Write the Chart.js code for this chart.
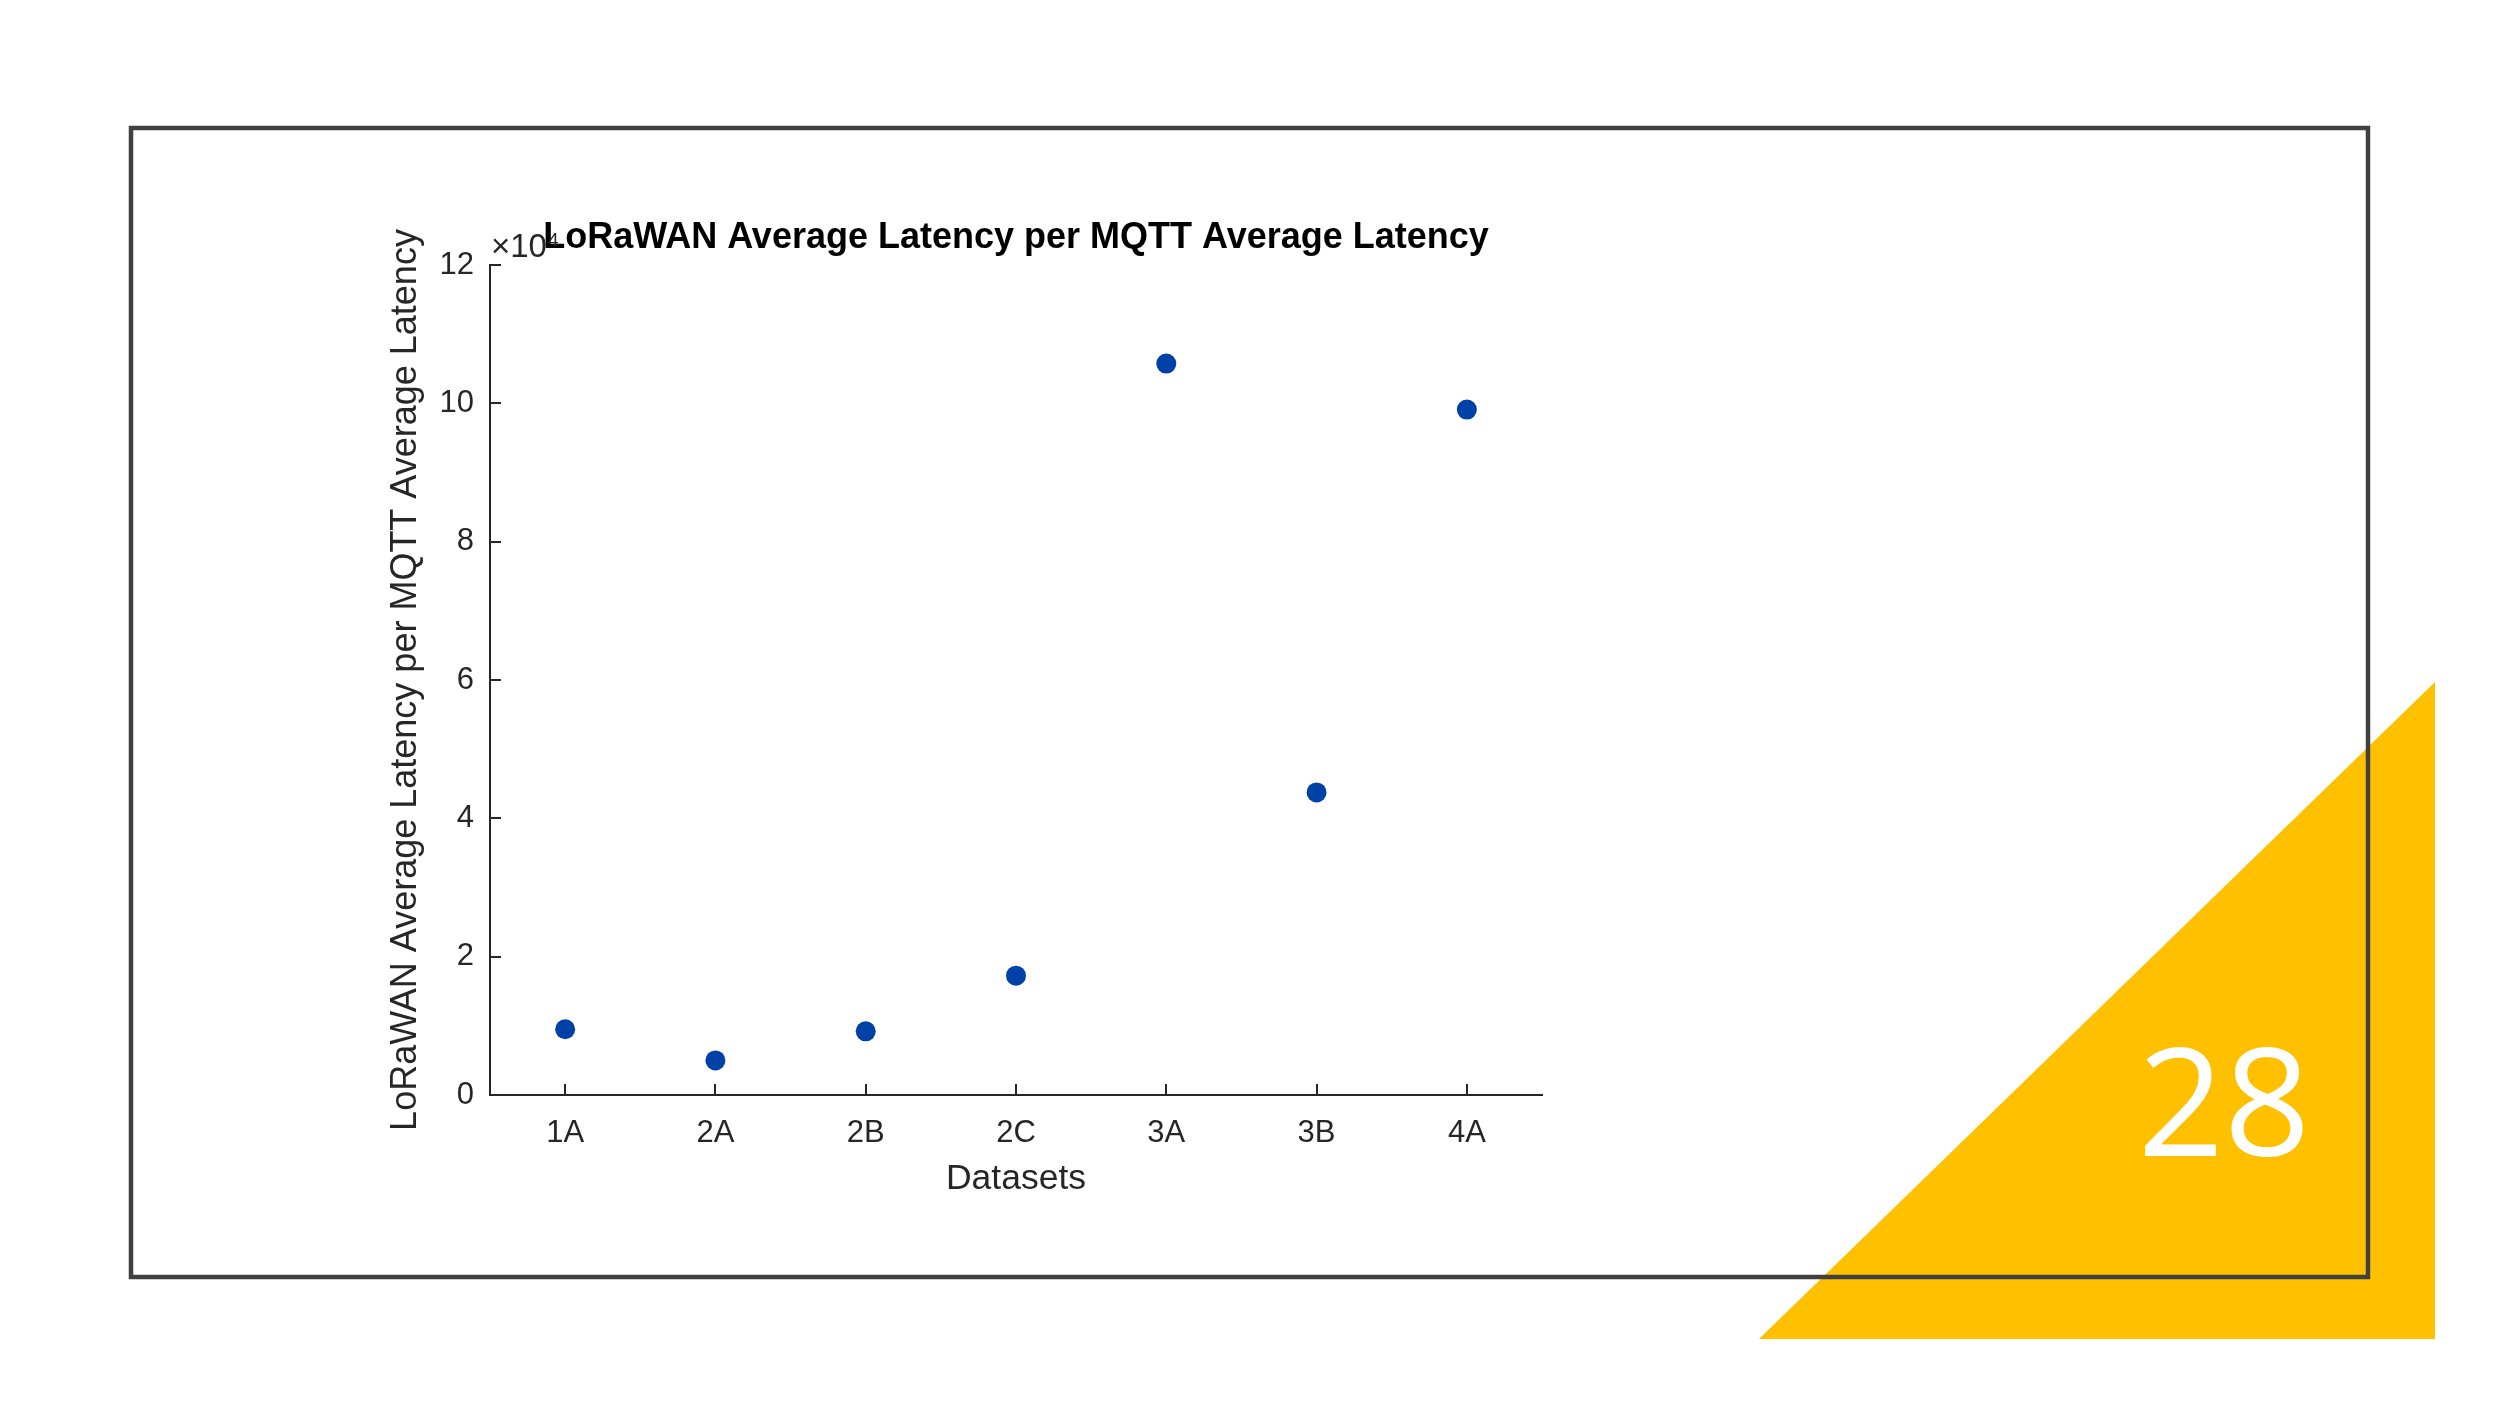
<!DOCTYPE html>
<html>
<head>
<meta charset="utf-8">
<script src="https://cdn.jsdelivr.net/npm/chart.js@4.4.1/dist/chart.umd.min.js"></script>
<style>
  html, body { margin: 0; padding: 0; background: #ffffff; }
  #wrap { position: relative; width: 2500px; height: 1406px; overflow: hidden; }
  #bg { position: absolute; left: 0; top: 0; }
  #chartBox { position: absolute; left: 0; top: 0; width: 2500px; height: 1406px; }
</style>
</head>
<body>
<div id="wrap">
  <svg id="bg" width="2500" height="1406" xmlns="http://www.w3.org/2000/svg">
    <polygon points="1759,1339 2435,1339 2435,682" fill="#FFC000"/>
    <rect x="131" y="128" width="2237" height="1149" fill="none" stroke="#404040" stroke-width="4.5"/>
    <text x="2224" y="1156" text-anchor="middle" font-family="'Open Sans', 'Noto Sans', sans-serif" font-size="151" fill="#ffffff">28</text>
  </svg>
  <div id="chartBox"><canvas id="c" width="2500" height="1406"></canvas></div>
</div>
<script>
const categories = ['1A', '2A', '2B', '2C', '3A', '3B', '4A'];
const ratioValues = [9500, 5000, 9200, 17250, 105750, 43750, 99100];
const yTickValues = [0, 20000, 40000, 60000, 80000, 100000, 120000];
const yExponent = 4;
const chartTitle = 'LoRaWAN Average Latency per MQTT Average Latency';
const xTitle = 'Datasets';
const yTitle = 'LoRaWAN Average Latency per MQTT Average Latency';

const FONT = "'Liberation Sans', Arial, Helvetica, sans-serif";
const AXIS_COLOR = '#262626';

const inwardTicks = {
  id: 'inwardTicks',
  afterDraw(chart) {
    const ctx = chart.ctx;
    const xs = chart.scales.x, ys = chart.scales.y;
    const area = chart.chartArea;
    const len = 11;
    ctx.save();
    ctx.strokeStyle = AXIS_COLOR;
    ctx.lineWidth = 2;
    ctx.beginPath();
    xs.ticks.forEach((t, i) => {
      const px = Math.round(xs.getPixelForTick(i));
      ctx.moveTo(px, area.bottom);
      ctx.lineTo(px, area.bottom - len);
    });
    ys.ticks.forEach(t => {
      const py = Math.round(ys.getPixelForValue(t.value));
      ctx.moveTo(area.left, py);
      ctx.lineTo(area.left + len, py);
    });
    ctx.stroke();
    ctx.restore();
  }
};

const exponentLabel = {
  id: 'exponentLabel',
  beforeDatasetsDraw(chart) {
    const ctx = chart.ctx;
    const area = chart.chartArea;
    ctx.save();
    ctx.fillStyle = AXIS_COLOR;
    ctx.textBaseline = 'alphabetic';
    ctx.textAlign = 'left';
    ctx.font = '33px ' + FONT;
    const base = '\u00D710';
    const bx = area.left + 1;
    const by = area.top - 8;
    ctx.fillText(base, bx, by);
    const w = ctx.measureText(base).width;
    ctx.font = '19px ' + FONT;
    ctx.fillText(String(yExponent), bx + w + 1, by - 11);
    ctx.restore();
  }
};

new Chart(document.getElementById('c'), {
  type: 'line',
  data: {
    labels: categories,
    datasets: [{
      data: ratioValues,
      showLine: false,
      pointRadius: 10,
      pointHoverRadius: 10,
      pointBackgroundColor: '#0041A8',
      pointBorderWidth: 0,
      pointBorderColor: '#0041A8'
    }]
  },
  options: {
    responsive: false,
    animation: false,
    events: [],
    layout: { padding: { left: 384, right: 958, top: 0, bottom: 205 } },
    plugins: {
      legend: { display: false },
      tooltip: { enabled: false },
      title: {
        display: true,
        text: chartTitle,
        fullSize: false,
        color: '#000000',
        font: { family: FONT, size: 36, weight: 'bold', lineHeight: 1.2 },
        padding: { top: 216, bottom: 5.8 }
      }
    },
    scales: {
      x: {
        type: 'category',
        offset: true,
        grid: { display: false, drawTicks: false },
        border: { display: true, color: AXIS_COLOR, width: 2 },
        ticks: { color: AXIS_COLOR, font: { family: FONT, size: 31 }, padding: 20, maxRotation: 0, autoSkip: false },
        title: { display: true, text: xTitle, color: AXIS_COLOR, font: { family: FONT, size: 35.5, lineHeight: 1.2 }, padding: { top: 0, bottom: 0 } },
        afterFit(s) { s.height = 106; }
      },
      y: {
        type: 'linear',
        min: 0,
        max: 120000,
        grid: { display: false, drawTicks: false },
        border: { display: true, color: AXIS_COLOR, width: 2 },
        afterBuildTicks(s) { s.ticks = yTickValues.map(v => ({ value: v })); },
        ticks: { color: AXIS_COLOR, font: { family: FONT, size: 31 }, padding: 16,
                 callback: v => String(v / Math.pow(10, yExponent)) },
        title: { display: true, text: yTitle, color: AXIS_COLOR, font: { family: FONT, size: 36, lineHeight: 1.2 }, padding: { top: 0, bottom: 0 } },
        afterFit(s) { s.width = 106; }
      }
    }
  },
  plugins: [inwardTicks, exponentLabel]
});
</script>
</body>
</html>
